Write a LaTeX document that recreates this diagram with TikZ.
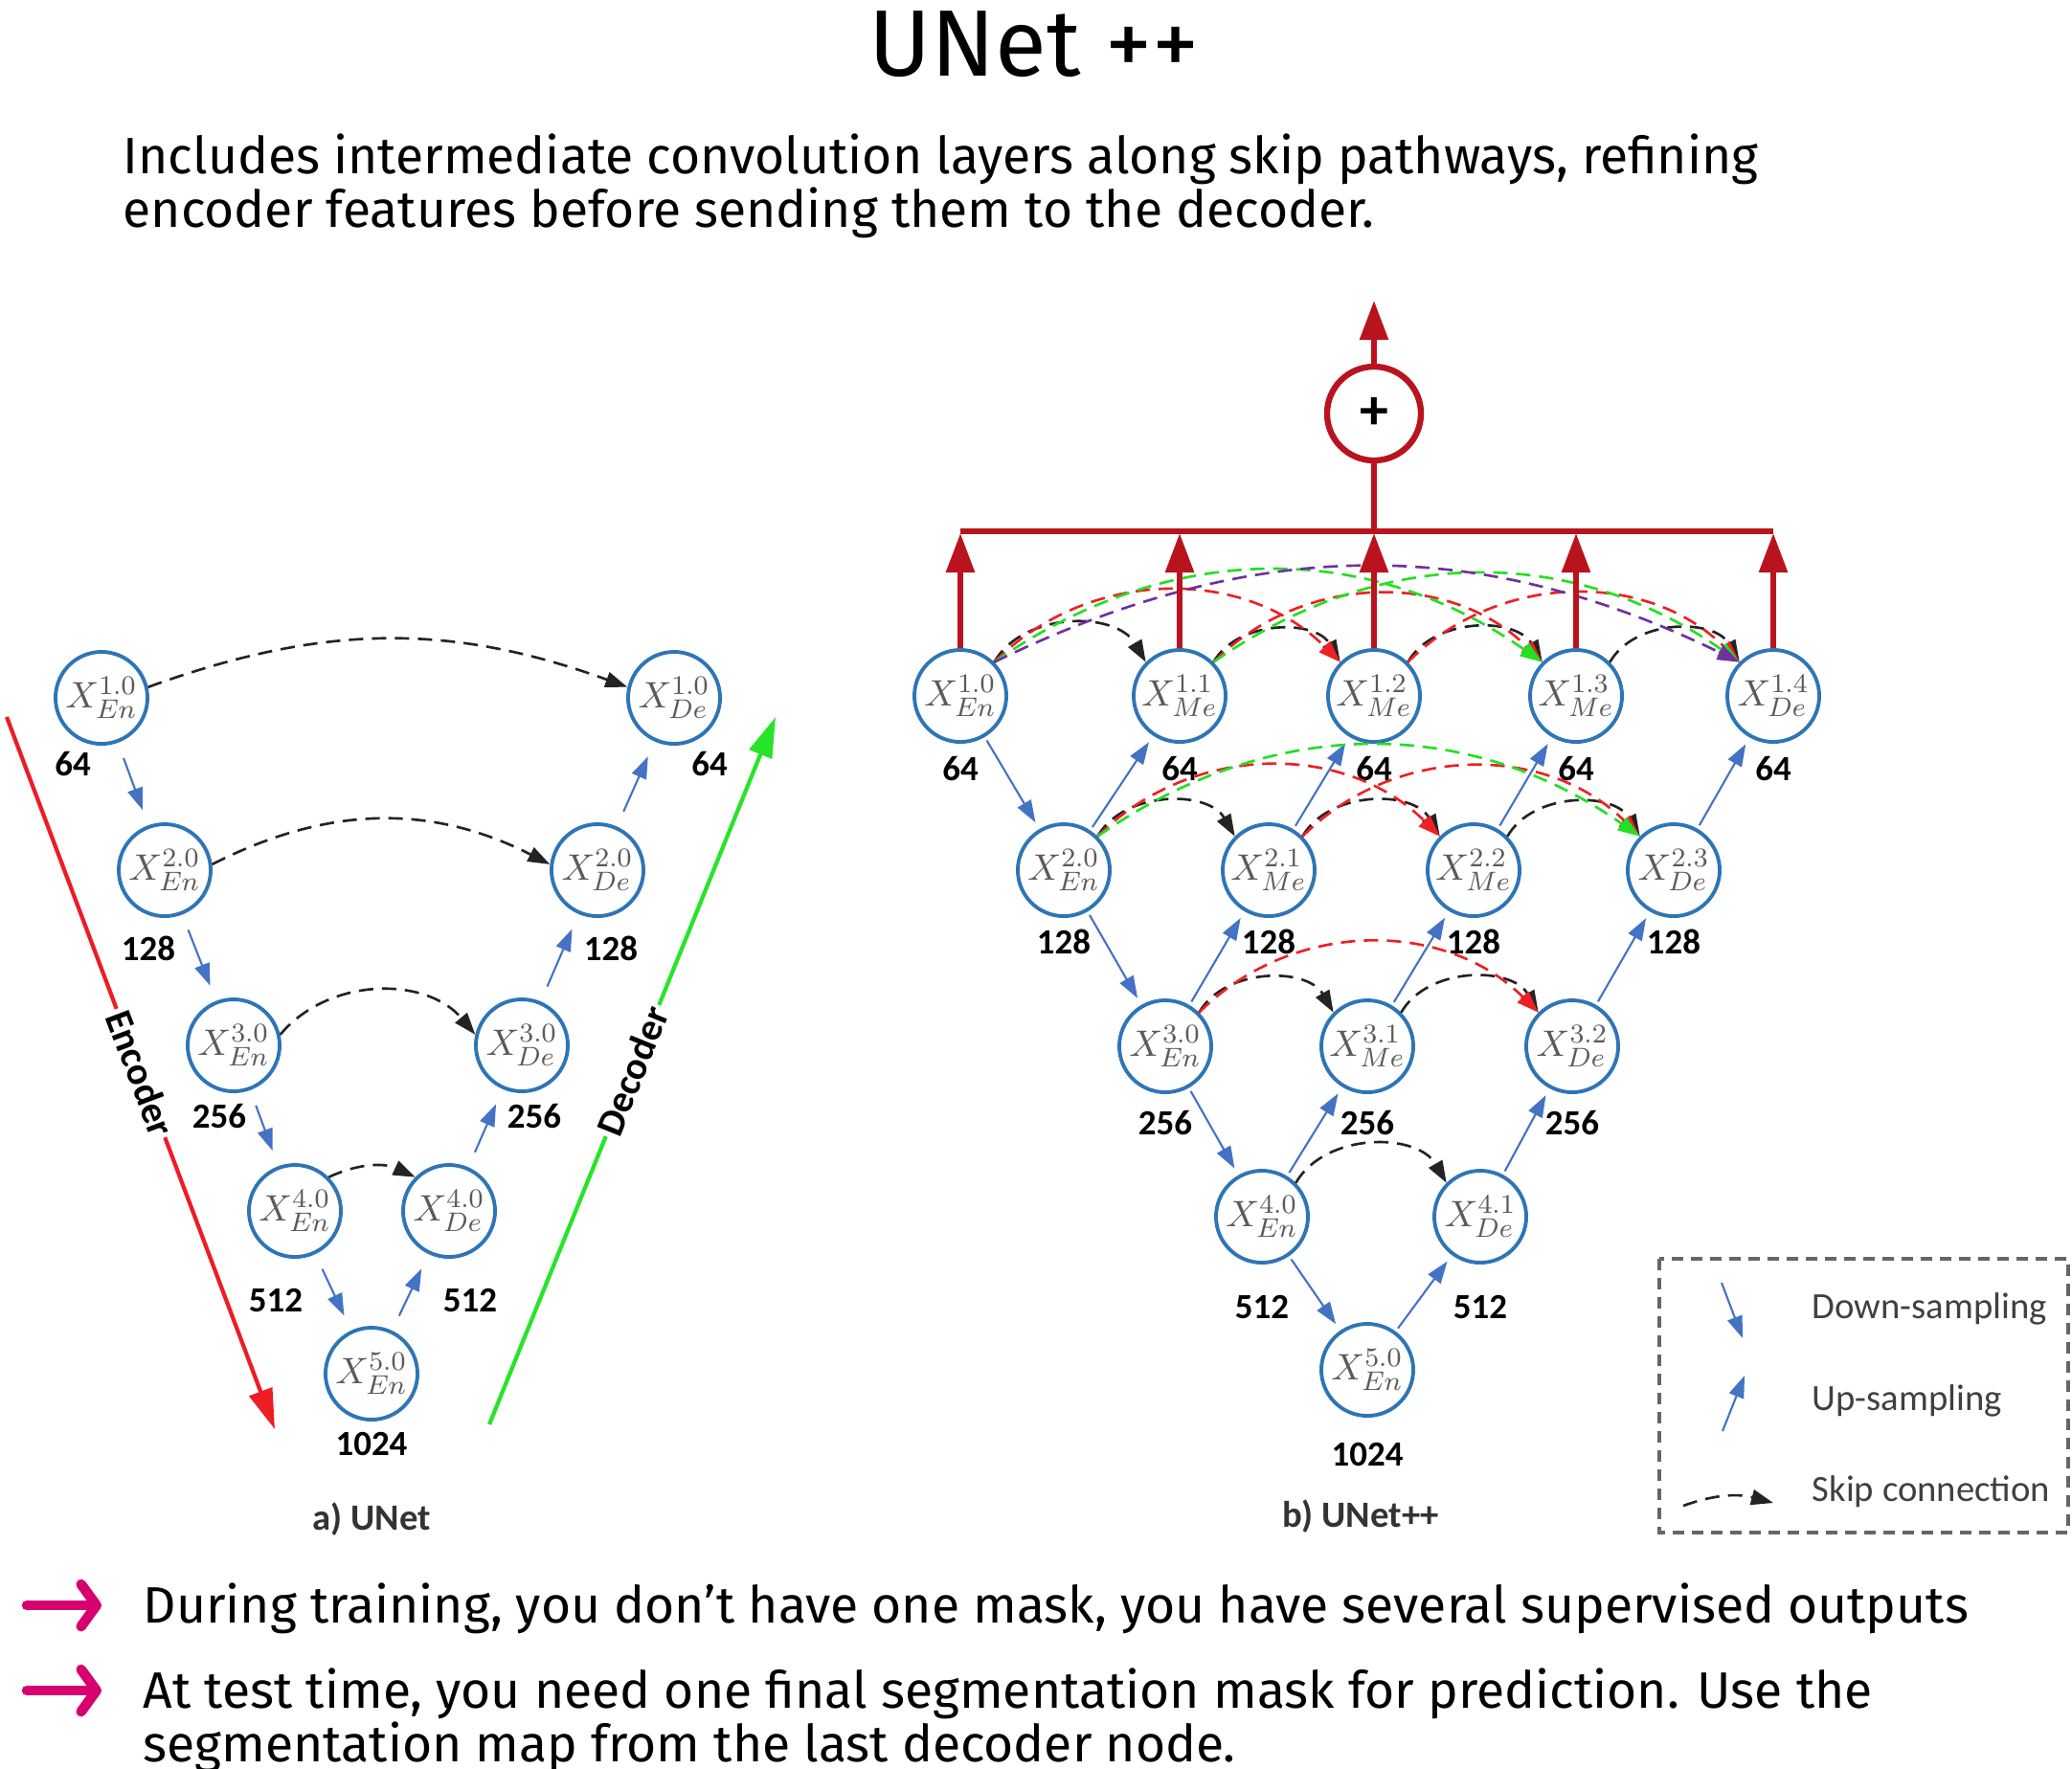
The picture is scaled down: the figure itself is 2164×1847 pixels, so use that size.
\documentclass[tikz,border=0pt]{standalone}
\usepackage{fontspec}
\setmainfont{Carlito}
\newfontfamily\handfont{Fira Sans}
\usetikzlibrary{arrows.meta,positioning}

\definecolor{nodeblue}{RGB}{46,117,182}
\definecolor{sampblue}{RGB}{68,114,196}
\definecolor{sumred}{RGB}{185,20,30}
\definecolor{skipred}{RGB}{238,32,36}
\definecolor{skipgreen}{RGB}{34,224,34}
\definecolor{skippurple}{RGB}{112,48,160}
\definecolor{skipblack}{RGB}{35,35,35}
\definecolor{encred}{RGB}{238,28,36}
\definecolor{decgreen}{RGB}{40,228,40}
\definecolor{pointpink}{RGB}{214,0,110}
\definecolor{mathgray}{RGB}{90,90,90}
\definecolor{leggray}{RGB}{64,64,64}

\begin{document}
\begin{tikzpicture}[x=0.01cm,y=0.01cm,
  unit/.style={draw=nodeblue,line width=1.1pt,circle,fill=white,minimum size=0.96cm,
               inner sep=-2pt,text=mathgray,font=\fontsize{11}{11}\selectfont},
  num/.style={font=\fontsize{10.5}{12}\selectfont\bfseries,inner sep=1pt},
  samp/.style={draw=sampblue,line width=0.6pt,-{Triangle[length=0.23cm,width=0.16cm]}},
  skiparc/.style={line width=0.75pt,dash pattern=on 0.15cm off 0.09cm,
                  -{Triangle[length=0.23cm,width=0.16cm]}},
  outarr/.style={draw=sumred,line width=1.7pt,-{Triangle[length=0.41cm,width=0.29cm]}},
  sumline/.style={draw=sumred,line width=1.7pt},
  sumnode/.style={draw=sumred,line width=1.8pt,circle,minimum size=0.98cm,inner sep=0pt,
                  font=\fontsize{17}{17}\selectfont\bfseries},
  flow/.style={line width=1.2pt,-{Triangle[length=0.42cm,width=0.25cm]}},
  flowlab/.style={font=\fontsize{11.5}{12}\selectfont\bfseries,text=black,fill=white,
                  inner sep=1pt,sloped},
  subcap/.style={font=\fontsize{11}{12}\selectfont\bfseries,text=black!80},
  legbox/.style={draw=black!60,line width=0.9pt,dash pattern=on 0.12cm off 0.08cm},
  legtxt/.style={font=\fontsize{11}{12}\selectfont,text=leggray,anchor=west,inner sep=0pt},
  hand/.style={font=\handfont\fontsize{15.2}{16.3}\selectfont,anchor=base west,inner sep=0pt},
  pointer/.style={draw=pointpink,line width=3pt,line cap=round,
                  -{Straight Barb[length=1.6mm,width=4.4mm,round]}}]

\useasboundingbox (0,0) rectangle (2164,-1847);

% ---- heading ----
\node[font=\handfont\fontsize{28}{28}\selectfont] (title) at (1080,-46) {UNet ++};
\node[hand] (intro1) at (128,-181) {Includes intermediate convolution layers along skip pathways, refining};
\node[hand] (intro2) at (128,-237) {encoder features before sending them to the decoder.};

% ---- a) UNet ----
\foreach \i/\x/\y in {1/106/729,2/172/909,3/244/1092,4/308/1265,5/388/1435}
  \node[unit] (e\i) at (\x,-\y) {$X^{\i.0}_{En}$};
\foreach \i/\x/\y in {1/704/729,2/624/909,3/545/1092,4/469/1265}
  \node[unit] (d\i) at (\x,-\y) {$X^{\i.0}_{De}$};
\foreach \i/\x/\y/\c in {1/76/798/64,2/155/991/128,3/229/1166/256,4/288/1358/512,5/388/1508/1024}
  \node[num] (ne\i) at (\x,-\y) {\c};
\foreach \i/\x/\y/\c in {1/741/798/64,2/638/991/128,3/558/1166/256,4/491/1358/512}
  \node[num] (nd\i) at (\x,-\y) {\c};

\foreach \a/\b in {e1/e2,e2/e3,e3/e4,e4/e5,e5/d4,d4/d3,d3/d2,d2/d1}
  \draw[samp,shorten <=0.17cm,shorten >=0.17cm] (\a) -- (\b);

\draw[skiparc,color=skipblack] (e1.13) to[out=20,in=160] (d1.167);
\draw[skiparc,color=skipblack] (e2.7) to[out=27,in=153] (d2.173);
\draw[skiparc,color=skipblack] (e3.13) to[out=50,in=130] (d3.167);
\draw[skiparc,color=skipblack] (e4.north east) to[out=25,in=155] (d4.north west);

% encoder / decoder arrows
\coordinate (encA) at (7,-749);
\coordinate (encB) at (287,-1493);
\draw[flow,color=encred] (encA) -- node[flowlab] (enclab) {Encoder} (encB);
\coordinate (decA) at (511,-1488);
\coordinate (decB) at (810,-749);
\draw[flow,color=decgreen] (decA) -- node[flowlab] (declab) {Decoder} (decB);

\node[subcap] (capa) at (388,-1587) {a) UNet};

% ---- b) UNet++ ----
\foreach \j/\x/\s in {0/1003/En,1/1232/Me,2/1435/Me,3/1646/Me,4/1852/De}
  \node[unit] (p1\j) at (\x,-727) {$X^{1.\j}_{\s}$};
\foreach \j/\x/\s in {0/1111/En,1/1325/Me,2/1539/Me,3/1748/De}
  \node[unit] (p2\j) at (\x,-909) {$X^{2.\j}_{\s}$};
\foreach \j/\x/\s in {0/1217/En,1/1428/Me,2/1642/De}
  \node[unit] (p3\j) at (\x,-1093) {$X^{3.\j}_{\s}$};
\foreach \j/\x/\s in {0/1318/En,1/1546/De}
  \node[unit] (p4\j) at (\x,-1271) {$X^{4.\j}_{\s}$};
\node[unit] (p50) at (1428,-1431) {$X^{5.0}_{En}$};

\foreach \j in {0,...,4} \node[num,below=0.09cm of p1\j] (m1\j) {64};
\foreach \j in {0,...,3} \node[num,below=0.08cm of p2\j] (m2\j) {128};
\foreach \j in {0,...,2} \node[num,below=0.13cm of p3\j] (m3\j) {256};
\foreach \j in {0,1} \node[num,below=0.28cm of p4\j] (m4\j) {512};
\node[num,below=0.22cm of p50] (m50) {1024};

% down- and up-sampling
\foreach \a/\b in {p10/p20,p20/p30,p30/p40,p40/p50,p20/p11,p21/p12,p22/p13,p23/p14,
                   p30/p21,p31/p22,p32/p23,p40/p31,p41/p32,p50/p41}
  \draw[samp,shorten <=0.04cm,shorten >=0.08cm] (\a) -- (\b);

% dense skip pathways
\foreach \a/\b/\c/\o/\i in {p10/p11/skipblack/60/120,p11/p12/skipblack/60/120,
    p12/p13/skipblack/60/120,p13/p14/skipblack/60/120,
    p10/p12/skipred/45/135,p11/p13/skipred/45/135,p12/p14/skipred/45/135,
    p10/p13/skipgreen/35/145,p11/p14/skipgreen/35/145,p10/p14/skippurple/26/154,
    p20/p21/skipblack/60/120,p21/p22/skipblack/60/120,p22/p23/skipblack/60/120,
    p20/p22/skipred/45/135,p21/p23/skipred/45/135,p20/p23/skipgreen/35/145,
    p30/p31/skipblack/60/120,p31/p32/skipblack/60/120,p30/p32/skipred/45/135,
    p40/p41/skipblack/60/120}
  \draw[skiparc,color=\c] (\a.north east) to[out=\o,in=\i] (\b.north west);

% deep supervision
\coordinate (barL) at (1003,-555);
\coordinate (barR) at (1852,-555);
\draw[sumline] (barL) -- (barR);
\foreach \j/\x in {0/1003,1/1232,2/1435,3/1646,4/1852}{
  \coordinate (t\j) at (\x,-557);
  \draw[outarr] (p1\j) -- (t\j);
}
\node[sumnode] (sum) at (1435,-432) {+};
\draw[sumline] (t2) -- (sum);
\coordinate (outtop) at (1435,-314);
\draw[outarr] (sum) -- (outtop);

\node[subcap] (capb) at (1421,-1584) {b) UNet++};

% ---- legend ----
\draw[legbox] (1733,-1315) rectangle (2160,-1601);
\coordinate (ldA) at (1798,-1340);
\coordinate (ldB) at (1820,-1398);
\draw[samp] (ldA) -- (ldB);
\coordinate (luA) at (1799,-1495);
\coordinate (luB) at (1822,-1437);
\draw[samp] (luA) -- (luB);
\coordinate (lsA) at (1758,-1573);
\coordinate (lsB) at (1852,-1570);
\draw[skiparc,color=skipblack] (lsA) to[out=20,in=165] (lsB);
\node[legtxt] (lgdown) at (1892,-1367) {Down-sampling};
\node[legtxt] (lgup) at (1892,-1463) {Up-sampling};
\node[legtxt] (lgskip) at (1892,-1558) {Skip connection};

% ---- notes ----
\coordinate (ptA1) at (28,-1677);
\coordinate (ptB1) at (106,-1677);
\draw[pointer] (ptA1) -- (ptB1);
\coordinate (ptA2) at (28,-1766);
\coordinate (ptB2) at (106,-1766);
\draw[pointer] (ptA2) -- (ptB2);
\node[hand] (note1) at (149,-1695) {During training, you don’t have one mask, you have several supervised outputs};
\node[hand] (note2) at (149,-1784) {At test time, you need one final segmentation mask for prediction. Use the};
\node[hand] (note3) at (149,-1840) {segmentation map from the last decoder node.};
\end{tikzpicture}
\end{document}
